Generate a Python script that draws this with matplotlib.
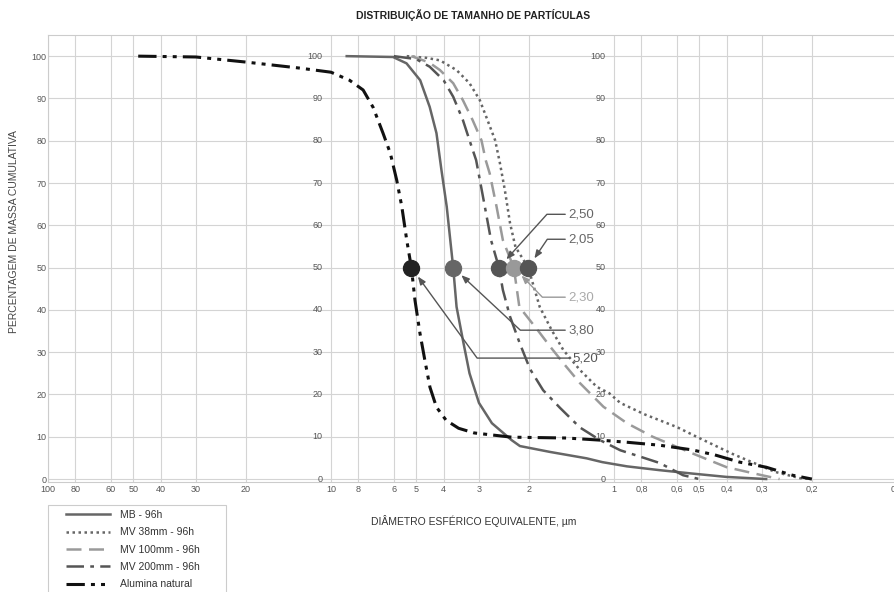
import matplotlib
matplotlib.use("Agg")
import matplotlib.pyplot as plt
import matplotlib.transforms as mtransforms
from matplotlib.patches import Rectangle

plt.rcParams['font.family'] = ['Liberation Sans', 'DejaVu Sans']

# diameter (um) and cumulative mass (%)
mb_d = [8.8, 6.04, 5.41, 4.84, 4.48, 4.24, 4.07, 3.9, 3.7, 3.6, 3.42, 3.24, 3.0, 2.7, 2.3, 2.15,
        1.68, 1.25, 1.1, 0.9, 0.69, 0.53, 0.40, 0.29]
mb_v = [100, 99.8, 98.3, 94.3, 88, 81.8, 73, 64.4, 50, 40.7, 32.9, 25, 18, 13.2, 9.2, 7.8,
        6.4, 4.9, 4.0, 3.0, 2.1, 1.3, 0.5, 0]

mv38_d = [5.4, 4.6, 4.12, 3.6, 3.24, 2.98, 2.8, 2.63, 2.53, 2.43, 2.33, 2.23, 2.01, 1.83, 1.66,
          1.51, 1.32, 1.15, 1.04, 0.95, 0.78, 0.6, 0.5, 0.38, 0.27, 0.22, 0.2]
mv38_v = [100, 99.6, 99, 96.7, 93.6, 89.6, 84.9, 80.1, 74.7, 68.3, 60.5, 54.9, 50, 40.7, 35.2,
          30.5, 25.8, 21.8, 20.3, 18, 15.3, 12.3, 9.7, 5.9, 1.7, 0.2, 0]

mv100_d = [5.2, 4.5, 4.12, 3.7, 3.42, 3.16, 2.94, 2.84, 2.75, 2.6, 2.47, 2.26, 2.16, 1.86, 1.68,
           1.51, 1.32, 1.09, 0.9, 0.73, 0.53, 0.40, 0.30, 0.26]
mv100_v = [100, 98.5, 96.7, 93.6, 89.6, 84.9, 80.1, 75.4, 72.3, 64.4, 56.5, 50, 40.7, 35.2, 31.3,
           27.4, 22.7, 17.1, 13.2, 10, 6.1, 2.8, 0.9, 0]

mv200_d = [6.0, 5.0, 4.48, 4.0, 3.7, 3.42, 3.24, 3.07, 2.86, 2.72, 2.55, 2.47, 2.33, 2.15, 1.98,
           1.78, 1.55, 1.32, 1.12, 0.95, 0.8, 0.69, 0.57, 0.5]
mv200_v = [100, 99.3, 97.5, 94.3, 90.4, 84.9, 80.1, 75.4, 64.4, 56.5, 50, 44.7, 38.4, 32, 26,
           21, 16.8, 12.2, 9.2, 6.8, 5.2, 3.8, 0.9, 0]

alu_d = [48, 30, 20, 13, 10, 8.6, 7.7, 7.1, 6.55, 6.17, 5.86, 5.62, 5.4, 5.2, 5.05, 4.85, 4.66,
         4.47, 4.24, 3.92, 3.54, 3.12, 2.3, 1.47, 1.12, 0.9, 0.69, 0.53, 0.44, 0.36, 0.29, 0.234, 0.2]
alu_v = [100, 99.8, 98.6, 97.2, 96.2, 94.3, 92, 87.9, 81.8, 77, 70.7, 64.4, 56.5, 50, 42.3, 34.5,
         28.1, 21.7, 17, 13.9, 12, 10.9, 9.9, 9.7, 9.2, 8.7, 8.0, 6.9, 5.7, 4.0, 2.8, 0.9, 0]

# d50 markers: position on the chart and printed value
d50_x = [5.2, 3.7, 2.55, 2.26, 2.01]
d50_text = ['5,20', '3,80', '2,50', '2,30', '2,05']
d50_color = ['#222222', '#666666', '#555555', '#999999', '#555555']
d50_text_color = ['#555555', '#666666', '#666666', '#aaaaaa', '#666666']
label_x = [1.40, 1.454, 1.454, 1.454, 1.454]
label_y = [28.6, 35.2, 62.6, 43.0, 56.7]
arrow_angle = [-54, -43, 48, -46, 56]
arrow_color = ['#555555', '#555555', '#555555', '#999999', '#555555']

xticks = [100, 80, 60, 50, 40, 30, 20, 10, 8, 6, 5, 4, 3, 2, 1, 0.8, 0.6, 0.5, 0.4, 0.3, 0.2, 0.1]
xtick_labels = ['100', '80', '60', '50', '40', '30', '20', '10', '8', '6', '5', '4', '3', '2',
                '1', '0,8', '0,6', '0,5', '0,4', '0,3', '0,2', '0,1']
yticks = list(range(0, 101, 10))

fig = plt.figure(figsize=(8.95, 5.92), dpi=100)
ax = fig.add_axes([48 / 895, 110 / 592, 849 / 895, 447 / 592])

ax.set_xscale('log')
ax.set_xlim(100, 0.1)
ax.set_ylim(-0.7, 105)
ax.minorticks_off()
ax.set_xticks(xticks)
ax.set_xticklabels(xtick_labels)
ax.set_yticks(yticks)
ax.tick_params(axis='both', length=0, labelsize=6.5, labelcolor='#555555')
ax.tick_params(axis='x', pad=2)
ax.tick_params(axis='y', pad=1)
ax.grid(True, color='#d4d4d4', linewidth=0.8)
ax.set_axisbelow(True)
for s in ax.spines.values():
    s.set_color('#cccccc')
    s.set_linewidth(0.8)

# extra y labels beside the 10 and 1 grid lines
off = mtransforms.offset_copy(ax.transData, fig=fig, x=-6, y=0, units='points')
for xv in [10, 1]:
    for v in yticks:
        ax.text(xv, v, str(v), transform=off, ha='right', va='center',
                fontsize=6.5, color='#555555')

lw = 1.8
ax.plot(mb_d, mb_v, color='#666666', lw=lw, label='MB - 96h')
ax.plot(mv38_d, mv38_v, color='#666666', lw=lw, dashes=(1, 1.4), label='MV 38mm - 96h')
ax.plot(mv100_d, mv100_v, color='#9a9a9a', lw=lw, dashes=(6, 3), label='MV 100mm - 96h')
ax.plot(mv200_d, mv200_v, color='#555555', lw=lw, dashes=(7, 2.5, 1.5, 2.5), label='MV 200mm - 96h')
ax.plot(alu_d, alu_v, color='#111111', lw=2.2, dashes=(6, 2, 1.3, 2, 1.3, 2), label='Alumina natural')

for i in range(len(d50_x)):
    ax.plot([d50_x[i]], [50], 'o', color=d50_color[i], markersize=11.5, zorder=5)
    ax.annotate(d50_text[i], xy=(d50_x[i], 50), xytext=(label_x[i], label_y[i]),
                fontsize=9.5, color=d50_text_color[i], ha='left', va='center',
                arrowprops=dict(arrowstyle='-|>,head_length=0.5,head_width=0.2',
                                color=arrow_color[i], lw=1.0, shrinkA=0, shrinkB=8,
                                relpos=(0, 0.5),
                                connectionstyle='angle,angleA=0,angleB=%d,rad=0' % arrow_angle[i]),
                zorder=6)

fig.text(473 / 895, 1 - 15 / 592, 'DISTRIBUIÇÃO DE TAMANHO DE PARTÍCULAS', ha='center', va='center',
         fontsize=7.5, fontweight='bold', color='#222222')
fig.text(474 / 895, 1 - 521 / 592, 'DIÂMETRO ESFÉRICO EQUIVALENTE, µm', ha='center', va='center',
         fontsize=7.5, color='#333333')
fig.text(14 / 895, 1 - 232 / 592, 'PERCENTAGEM DE MASSA CUMULATIVA', ha='center', va='center',
         rotation=90, fontsize=7.5, color='#444444')

# legend box runs off the bottom of the picture, as in the original
fig.add_artist(Rectangle((48 / 895, -0.05), (226 - 48) / 895, 0.05 + (1 - 505 / 592),
                         transform=fig.transFigure, fill=False, edgecolor='#cccccc', lw=0.8))
handles, labels = ax.get_legend_handles_labels()
leg = fig.legend(handles, labels, loc='upper left', bbox_to_anchor=(66 / 895, 1 - 510 / 592),
                 borderaxespad=0, borderpad=0, fontsize=7.5, frameon=False,
                 handlelength=4.2, handletextpad=1.0, labelspacing=0.7)
for t in leg.get_texts():
    t.set_color('#333333')

fig.savefig('out.png', dpi=100)
